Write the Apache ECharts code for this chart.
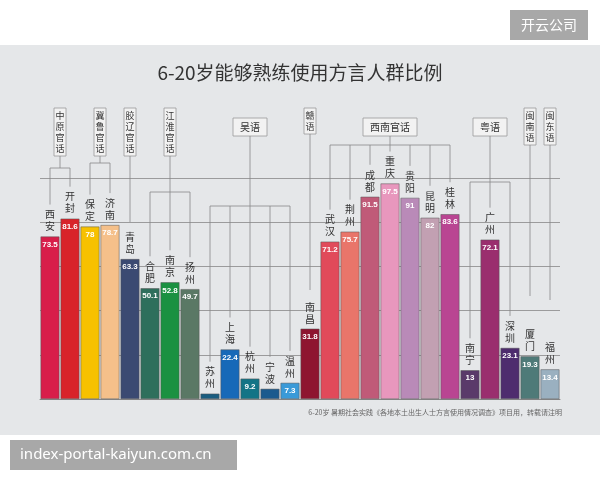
<!DOCTYPE html>
<html>
<head>
<meta charset="utf-8">
<script src="https://cdn.jsdelivr.net/npm/echarts@6/dist/echarts.min.js"></script>
<style>
body{margin:0;background:#fff;}
#chart{width:600px;height:480px;}
</style>
</head>
<body>
<div id="chart"></div>
<script>
// 城市与比例
var cities = ["西安","开封","保定","济南","青岛","合肥","南京","扬州","苏州","上海","杭州","宁波","温州","南昌","武汉","荆州","成都","重庆","贵阳","昆明","桂林","南宁","广州","深圳","厦门","福州"];
var values = [73.5,81.6,78,78.7,63.3,50.1,52.8,49.7,2.4,22.4,9.2,4.6,7.3,31.8,71.2,75.7,91.5,97.5,91,82,83.6,13,72.1,23.1,19.3,13.4];
var colors = ["#d81e4a","#d8232a","#f7c100","#f5c08a","#3b4a72","#2e6f5c","#1a9141","#5a7865","#1a5d80","#1769b8","#137486","#1a5a8e","#3a9ad8","#8e1530","#e14a5a","#e9756a","#c05a78","#e897bd","#b98ab8","#c2a0b2","#b94592","#5a3a6a","#9a2e6e","#4e2c6e","#4e7a78","#9ab0c0"];
// 方言分组: 名称, 起止城市序号, 是否竖排, 连线高度(像素)
var groupNames = ["中原官话","冀鲁官话","胶辽官话","江淮官话","吴语","赣语","西南官话","粤语","闽南语","闽东语"];
var groupFrom  = [0,2,4,5,8,13,14,21,24,25];
var groupTo    = [1,3,4,7,12,13,20,23,24,25];
var groupVert  = [true,true,true,true,false,true,false,false,true,true];
var groupY     = [168,163,222,192,206,290,145,182,296,300];

var data = [];
for (var i = 0; i < values.length; i++) {
    data.push({value: values[i], itemStyle: {color: colors[i]}});
}

var myChart = echarts.init(document.getElementById('chart'));
var option = {
    backgroundColor: '#fff',
    title: {
        text: '6-20岁能够熟练使用方言人群比例',
        left: 'center',
        top: 58,
        textStyle: {color: '#333', fontSize: 19, fontWeight: 'normal', fontFamily: 'Noto Sans CJK SC'}
    },
    grid: {left: 40, right: 40, top: 178, bottom: 81},
    xAxis: {
        type: 'category',
        data: cities,
        axisLine: {lineStyle: {color: '#888'}},
        axisTick: {show: false},
        axisLabel: {show: false}
    },
    yAxis: {
        type: 'value', min: 0, max: 100, interval: 20,
        axisLabel: {show: false},
        splitLine: {lineStyle: {color: '#888', width: 0.8}}
    },
    series: [{
        type: 'bar',
        data: data,
        barCategoryGap: '6%',
        itemStyle: {borderColor: '#555', borderWidth: 0.5},
        label: {
            show: true, position: 'insideTop', distance: 4,
            color: '#fff', fontSize: 8, fontWeight: 'bold',
            formatter: function (p) { return p.value > 5 ? p.value : ''; }
        },
        z: 3
    }]
};
myChart.setOption(option);

// 分组注释与城市名
function drawNotes() {
    var g = [];
    g.push({type: 'rect', shape: {x: 0, y: 45, width: 600, height: 390}, style: {fill: '#e5e7e9'}, z: -10});
    g.push({type: 'rect', shape: {x: 510, y: 10, width: 78, height: 30}, style: {fill: '#a8a8a8'}});
    g.push({type: 'text', x: 549, y: 25, style: {text: '开云公司', fill: '#fff', fontSize: 14, align: 'center', verticalAlign: 'middle', fontFamily: 'Noto Sans CJK SC'}});
    g.push({type: 'rect', shape: {x: 10, y: 440, width: 227, height: 30}, style: {fill: '#a8a8a8'}});
    g.push({type: 'text', x: 20, y: 455, style: {text: 'index-portal-kaiyun.com.cn', fill: '#fff', fontSize: 15, verticalAlign: 'middle', fontFamily: 'Noto Sans'}});
    g.push({type: 'text', x: 562, y: 412, style: {text: '6-20岁 暑期社会实践《各地本土出生人士方言使用情况调查》项目用，转载请注明', fill: '#666', fontSize: 7, align: 'right', verticalAlign: 'middle', fontFamily: 'Noto Sans CJK SC'}});
    var lineStyle = {stroke: '#888', lineWidth: 0.8, fill: null};
    var txt = {fill: '#333', fontSize: 10, fontFamily: 'Noto Sans CJK SC', align: 'center'};
    // 城市名
    for (var i = 0; i < cities.length; i++) {
        var p = myChart.convertToPixel({xAxisIndex: 0, yAxisIndex: 0}, [i, values[i]]);
        g.push({type: 'text', x: p[0], y: p[1] - 4, style: Object.assign({}, txt, {text: cities[i].split('').join('\n'), verticalAlign: 'bottom', lineHeight: 12})});
    }
    for (var k = 0; k < groupNames.length; k++) {
        var a = myChart.convertToPixel({xAxisIndex: 0}, groupFrom[k]);
        var b = myChart.convertToPixel({xAxisIndex: 0}, groupTo[k]);
        var cx = (a + b) / 2, by = groupY[k], boxBottom;
        if (groupVert[k]) {
            var h = groupNames[k].length * 11 + 4;
            g.push({type: 'rect', shape: {x: cx - 6, y: 108, width: 12, height: h}, style: {fill: '#f2f2f2', stroke: '#999', lineWidth: 0.8}});
            g.push({type: 'text', x: cx, y: 110, style: Object.assign({}, txt, {text: groupNames[k].split('').join('\n'), fontSize: 9, lineHeight: 11})});
            boxBottom = 108 + h;
        } else {
            var w = groupNames[k].length * 10 + 14;
            g.push({type: 'rect', shape: {x: cx - w / 2, y: 118, width: w, height: 18}, style: {fill: '#f2f2f2', stroke: '#999', lineWidth: 0.8}});
            g.push({type: 'text', x: cx, y: 127, style: Object.assign({}, txt, {text: groupNames[k], verticalAlign: 'middle'})});
            boxBottom = 136;
        }
        g.push({type: 'polyline', shape: {points: [[cx, boxBottom], [cx, by]]}, style: lineStyle});
        if (groupFrom[k] !== groupTo[k]) {
            g.push({type: 'polyline', shape: {points: [[a, by], [b, by]]}, style: lineStyle});
            for (var j = groupFrom[k]; j <= groupTo[k]; j++) {
                var q = myChart.convertToPixel({xAxisIndex: 0, yAxisIndex: 0}, [j, values[j]]);
                var top = q[1] - 4 - cities[j].length * 12 - 4;
                if (top > by) g.push({type: 'polyline', shape: {points: [[q[0], by], [q[0], top]]}, style: lineStyle});
            }
        }
    }
    myChart.setOption({graphic: {elements: g}});
}
drawNotes();
</script>
</body>
</html>
